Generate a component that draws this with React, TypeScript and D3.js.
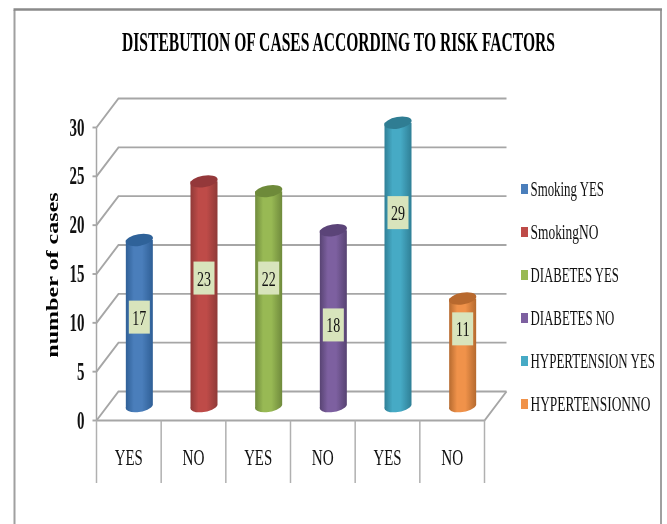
import React from "react";
import * as d3 from "d3";

const title = "DISTEBUTION OF CASES ACCORDING TO RISK FACTORS";
const yTitle = "number of cases";
const categories = ["YES", "NO", "YES", "NO", "YES", "NO"];
const seriesNames = ["Smoking YES", "SmokingNO", "DIABETES YES", "DIABETES NO", "HYPERTENSION YES", "HYPERTENSIONNO"];
const values = [17, 23, 22, 18, 29, 11];
const yTicks = [0, 5, 10, 15, 20, 25, 30];

const mid = ["#4a7ebb", "#be4b48", "#98b954", "#7d60a0", "#46aac5", "#f0924a"];
const dark = ["#2f5f96", "#8f3a38", "#6f8a3c", "#574372", "#2f7f96", "#b56a2f"];
const topC = ["#2f6299", "#94383a", "#6e8a3a", "#5b4478", "#2f7d93", "#b8692e"];

const SERIF = "'Liberation Serif','Times New Roman',serif";
const W = 667, H = 524;
const dx = 22, dy = -29;
const y = d3.scaleLinear().domain([0, 30]).range([420.5, 127.5]);
const x = d3.scaleBand<number>().domain(d3.range(6)).range([96.5, 484.5]);
// hand-placed label heights in the original, in axis units above the column base
const labelAt = [9.1, 13.1, 13.1, 8.3, 19.8, 7.9];
const legendY = d3.scalePoint<number>().domain(d3.range(6)).range([189, 404]);
const legendWidths = [74, 68, 89, 84, 125, 120];

const ctx = document.createElement("canvas").getContext("2d")!;
function Fit({ s, x: px, y: py, w, size, bold, anchor = "start", fill = "#111", rotate = 0 }: any) {
  ctx.font = `${bold ? "bold " : ""}${size}px 'Liberation Serif'`;
  const sx = w / ctx.measureText(s).width;
  return (
    <text
      transform={`translate(${px},${py}) rotate(${rotate}) scale(${sx},1)`}
      textAnchor={anchor}
      fontFamily={SERIF}
      fontWeight={bold ? "bold" : "normal"}
      fontSize={size}
      fill={fill}
    >
      {s}
    </text>
  );
}

export default function App() {
  const rx = 13.5, ry = 5.8;
  const baseShift = 14.5;
  return (
    <svg width={W} height={H} viewBox={`0 0 ${W} ${H}`} style={{ position: "absolute", left: 0, top: 0, background: "#fff", filter: "blur(0.35px)" }}>
      <defs>
        {mid.map((c, i) => (
          <linearGradient key={i} id={`g${i}`} x1="0" x2="1" y1="0" y2="0">
            <stop offset="0" stopColor={dark[i]} />
            <stop offset="0.3" stopColor={c} />
            <stop offset="0.6" stopColor={c} />
            <stop offset="1" stopColor={dark[i]} />
          </linearGradient>
        ))}
      </defs>
      <path d="M14.5,524V10M661,524V10" fill="none" stroke="#a0a0a0" strokeWidth={2} />
      <path d="M13.5,9.5H662" fill="none" stroke="#8a8a8a" strokeWidth={2.4} />
      <Fit s={title} x={338.5} y={51} w={435} size={27} bold anchor="middle" fill="#000" />

      {yTicks.map((t) => (
        <g key={t} stroke="#a6a6a6" strokeWidth={1.9} fill="none">
          <path d={`M96.5,${y(t)}L${96.5 + dx},${y(t) + dy}H${484.5 + dx}`} />
          <path d={`M92.5,${y(t)}H96.5`} />
        </g>
      ))}
      <path d={`M96.5,${y(0)}V${y(30)}`} stroke="#a6a6a6" strokeWidth={1.5} />
      <path d={`M96.5,${y(0)}H484.5L${484.5 + dx},${y(0) + dy}`} fill="none" stroke="#a6a6a6" strokeWidth={1.9} />
      {d3.range(7).map((i) => {
        const px = 96.5 + i * x.step();
        return <path key={i} d={`M${px},${y(0)}V483`} stroke="#b0b0b0" strokeWidth={1.5} />;
      })}

      {yTicks.map((t) => (
        <Fit key={t} s={String(t)} x={84.5} y={y(t) + 8} w={t < 10 ? 7.5 : 15} size={25} bold anchor="end" />
      ))}
      <Fit s={yTitle} x={58} y={275} w={166} size={17} bold anchor="middle" rotate={-90} fill="#000" />

      {values.map((v, i) => {
        const cx = x(i)! + x.bandwidth() / 2 + 10.5;
        const base = y(0) - baseShift;
        const top = base - (y(0) - y(v));
        return (
          <g key={i}>
            <path
              d={`M${cx - rx},${top}V${base + 1}A${rx},${ry} -10 0 0 ${cx + rx},${base - 1}V${top}Z`}
              fill={`url(#g${i})`}
            />
            <ellipse cx={cx} cy={top} rx={rx + 0.3} ry={ry} fill={topC[i]} transform={`rotate(-10 ${cx} ${top})`} />
          </g>
        );
      })}
      {values.map((v, i) => {
        const cx = x(i)! + x.bandwidth() / 2 + 10.5;
        const cy = y(0) - baseShift - (y(0) - y(labelAt[i]));
        return (
          <g key={i}>
            <rect x={cx - 10.5} y={cy - 16.5} width={21} height={33} fill="#d8e4bc" />
            <Fit s={String(v)} x={cx} y={cy + 7.5} w={14} size={22} anchor="middle" />
          </g>
        );
      })}

      {categories.map((c, i) => (
        <Fit key={i} s={c} x={x(i)! + x.bandwidth() / 2} y={465} w={c === "YES" ? 28 : 22} size={24} anchor="middle" />
      ))}

      {seriesNames.map((s, i) => (
        <g key={s}>
          <rect x={521} y={legendY(i)! - 5} width={7} height={10} fill={mid[i]} />
          <Fit s={s} x={530.5} y={legendY(i)! + 6.5} w={legendWidths[i]} size={20} />
        </g>
      ))}
    </svg>
  );
}
